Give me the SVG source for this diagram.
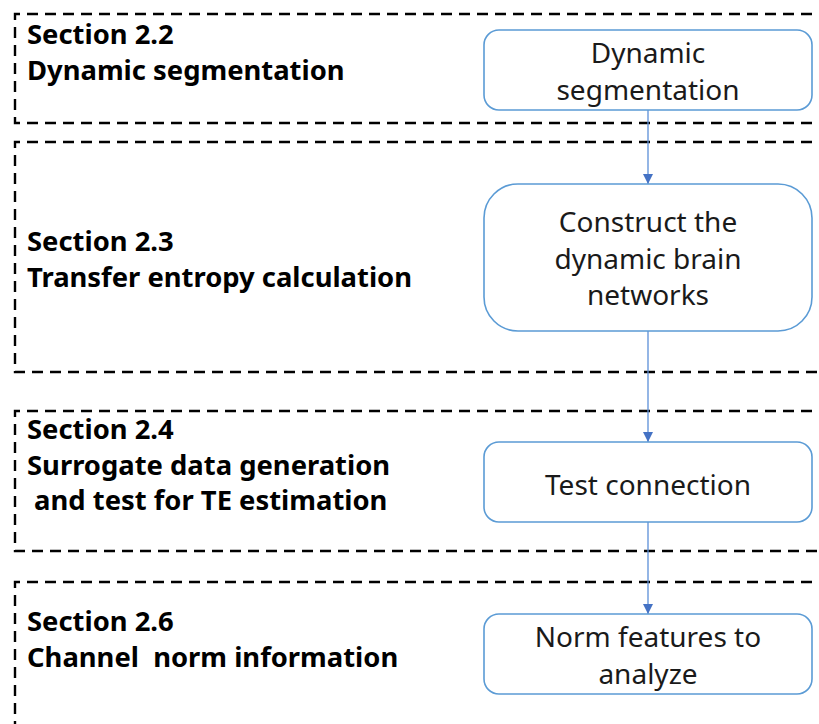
<svg xmlns="http://www.w3.org/2000/svg" width="819" height="724" viewBox="0 0 819 724">
<style>
.sec{fill:none;stroke:#000;stroke-width:2.4;stroke-dasharray:11 7}
.lbl{font-family:"Noto Sans","Open Sans",sans-serif;font-weight:bold;font-size:27.4px;fill:#000}
.box{fill:#fff;stroke:#5B9BD5;stroke-width:1.6}
.nt{font-family:"Noto Sans","Open Sans",sans-serif;font-size:28px;fill:#1a1a1a;text-anchor:middle}
.cn{stroke:#5B8FD8;stroke-width:1.3;fill:none;marker-end:url(#ah)}
</style>
<defs>
<marker id="ah" viewBox="0 0 10 10" refX="10" refY="5" markerWidth="10" markerHeight="10" markerUnits="userSpaceOnUse" orient="auto">
<path d="M0,0 L10,5 L0,10 z" fill="#4472C4"/>
</marker>
</defs>
<rect width="819" height="724" fill="#fff"/>
<g id="sections">
<path class="sec" d="M830,14 H15 V123 H830"/>
<path class="sec" d="M830,142 H15 V372 H830"/>
<path class="sec" d="M830,411 H15 V551 H830"/>
<path class="sec" d="M830,582 H15 V730"/>
<text class="lbl" x="27" y="44">Section 2.2</text>
<text class="lbl" x="27" y="80">Dynamic segmentation</text>
<text class="lbl" x="27" y="251">Section 2.3</text>
<text class="lbl" x="27" y="287">Transfer entropy calculation</text>
<text class="lbl" x="27" y="439">Section 2.4</text>
<text class="lbl" x="27" y="475">Surrogate data generation</text>
<text class="lbl" x="27" y="510" xml:space="preserve"> and test for TE estimation</text>
<text class="lbl" x="27" y="631">Section 2.6</text>
<text class="lbl" x="27" y="667" xml:space="preserve">Channel  norm information</text>
</g>
<g id="connectors">
<line class="cn" x1="648" y1="110" x2="648" y2="184"/>
<line class="cn" x1="648" y1="331" x2="648" y2="442"/>
<line class="cn" x1="648" y1="522" x2="648" y2="614"/>
</g>
<g id="n1">
<rect class="box" x="484" y="30" width="328" height="80" rx="15"/>
<text class="nt" x="648" y="63">Dynamic</text>
<text class="nt" x="648" y="100">segmentation</text>
</g>
<g id="n2">
<rect class="box" x="484" y="184" width="328" height="147" rx="34"/>
<text class="nt" x="648" y="232">Construct the</text>
<text class="nt" x="648" y="269">dynamic brain</text>
<text class="nt" x="648" y="305">networks</text>
</g>
<g id="n3">
<rect class="box" x="484" y="442" width="328" height="80" rx="15"/>
<text class="nt" x="648" y="495">Test connection</text>
</g>
<g id="n4">
<rect class="box" x="484" y="614" width="328" height="80" rx="15"/>
<text class="nt" x="648" y="647">Norm features to</text>
<text class="nt" x="648" y="684">analyze</text>
</g>
</svg>
